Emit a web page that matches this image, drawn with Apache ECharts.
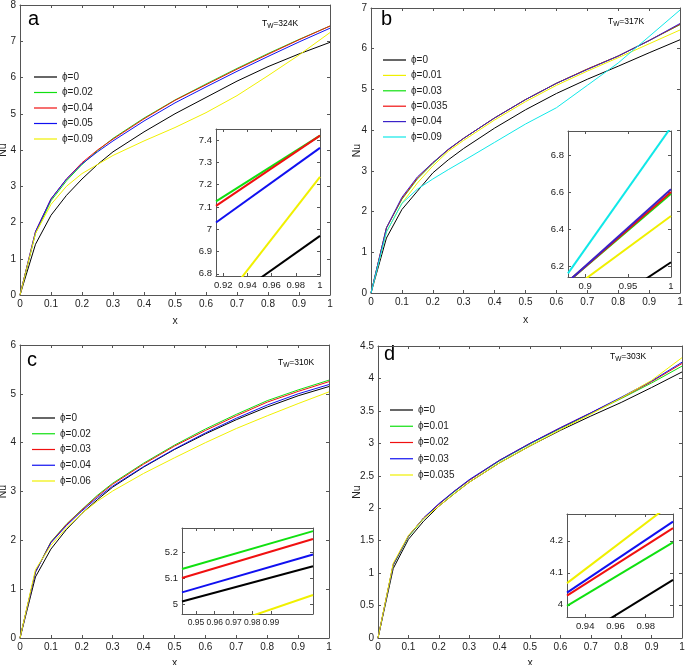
<!DOCTYPE html>
<html><head><meta charset="utf-8">
<script src="https://cdn.jsdelivr.net/npm/echarts@6/dist/echarts.min.js"></script>
<style>
html,body{margin:0;padding:0;background:#fff;width:685px;height:665px;overflow:hidden}
.p{position:absolute}
</style></head>
<body>
<div id="pa" class="p" style="left:0;top:0;width:342px;height:332px"></div>
<div id="pb" class="p" style="left:342px;top:0;width:343px;height:332px"></div>
<div id="pc" class="p" style="left:0;top:332px;width:342px;height:333px"></div>
<div id="pd" class="p" style="left:342px;top:332px;width:343px;height:333px"></div>
<script>
// ---------- shared ----------
const xs = [0, 0.05, 0.1, 0.15, 0.2, 0.25, 0.3, 0.4, 0.5, 0.6, 0.7, 0.8, 0.9, 1];
const xTicks = [0, 0.1, 0.2, 0.3, 0.4, 0.5, 0.6, 0.7, 0.8, 0.9, 1];

// ---------- panel a (Tw = 324K) ----------
const aNames = ['ϕ=0', 'ϕ=0.02', 'ϕ=0.04', 'ϕ=0.05', 'ϕ=0.09'];
const aBlack  = [0, 1.40, 2.20, 2.75, 3.20, 3.60, 3.95, 4.50, 5.00, 5.45, 5.90, 6.30, 6.65, 6.97];
const aGreen  = [0, 1.70, 2.60, 3.15, 3.60, 3.98, 4.32, 4.88, 5.38, 5.82, 6.25, 6.66, 7.05, 7.42];
const aRed    = [0, 1.75, 2.65, 3.20, 3.65, 4.00, 4.30, 4.86, 5.37, 5.80, 6.23, 6.64, 7.04, 7.42];
const aBlue   = [0, 1.75, 2.65, 3.20, 3.62, 3.95, 4.25, 4.80, 5.30, 5.74, 6.17, 6.58, 6.98, 7.36];
const aYellow = [0, 1.70, 2.50, 3.00, 3.35, 3.60, 3.85, 4.25, 4.62, 5.03, 5.50, 6.05, 6.62, 7.24];
const aYTicks = [0, 1, 2, 3, 4, 5, 6, 7, 8];
const aInsetX = [0.914, 1];
const aInsBlack  = [6.64, 6.97];
const aInsGreen  = [7.125, 7.42];
const aInsRed    = [7.105, 7.42];
const aInsBlue   = [7.03, 7.365];
const aInsYellow = [6.635, 7.235];
const aInsXTicks = [0.92, 0.94, 0.96, 0.98, 1];
const aInsYTicks = [6.8, 6.9, 7, 7.1, 7.2, 7.3, 7.4];

// ---------- panel b (Tw = 317K) ----------
const bNames = ['ϕ=0', 'ϕ=0.01', 'ϕ=0.03', 'ϕ=0.035', 'ϕ=0.04', 'ϕ=0.09'];
const bBlack  = [0, 1.35, 2.05, 2.50, 2.95, 3.27, 3.55, 4.05, 4.50, 4.90, 5.25, 5.57, 5.90, 6.22];
const bYellow = [0, 1.50, 2.20, 2.70, 3.12, 3.48, 3.75, 4.25, 4.70, 5.10, 5.45, 5.78, 6.12, 6.46];
const bGreen  = [0, 1.60, 2.30, 2.80, 3.18, 3.52, 3.80, 4.30, 4.75, 5.15, 5.50, 5.82, 6.20, 6.59];
const bRed    = [0, 1.60, 2.32, 2.82, 3.20, 3.52, 3.80, 4.30, 4.75, 5.15, 5.50, 5.82, 6.20, 6.60];
const bPurple = [0, 1.60, 2.35, 2.85, 3.20, 3.53, 3.80, 4.30, 4.75, 5.15, 5.49, 5.82, 6.20, 6.62];
const bCyan   = [0, 1.50, 2.20, 2.55, 2.80, 3.03, 3.25, 3.70, 4.15, 4.55, 5.10, 5.65, 6.30, 6.95];
const bYTicks = [0, 1, 2, 3, 4, 5, 6, 7];
const bInsetX = [0.88, 1];
const bInsBlack  = [5.85, 6.22];
const bInsYellow = [6.06, 6.47];
const bInsGreen  = [6.115, 6.59];
const bInsRed    = [6.115, 6.60];
const bInsPurple = [6.115, 6.615];
const bInsCyan   = [6.16, 6.95];
const bInsXTicks = [0.9, 0.95, 1];
const bInsYTicks = [6.2, 6.4, 6.6, 6.8];

// ---------- panel c (Tw = 310K) ----------
const cNames = ['ϕ=0', 'ϕ=0.02', 'ϕ=0.03', 'ϕ=0.04', 'ϕ=0.06'];
const cBlack  = [0, 1.25, 1.82, 2.22, 2.55, 2.83, 3.09, 3.50, 3.86, 4.18, 4.47, 4.73, 4.96, 5.15];
const cGreen  = [0, 1.35, 1.97, 2.33, 2.63, 2.92, 3.17, 3.58, 3.95, 4.28, 4.58, 4.86, 5.08, 5.28];
const cRed    = [0, 1.35, 1.96, 2.32, 2.62, 2.90, 3.15, 3.56, 3.93, 4.25, 4.55, 4.83, 5.05, 5.25];
const cBlue   = [0, 1.35, 1.95, 2.30, 2.60, 2.87, 3.11, 3.51, 3.87, 4.20, 4.50, 4.77, 5.00, 5.19];
const cYellow = [0, 1.40, 1.90, 2.25, 2.55, 2.80, 3.01, 3.37, 3.69, 4.00, 4.29, 4.55, 4.80, 5.04];
const cYTicks = [0, 1, 2, 3, 4, 5, 6];
const cInsetX = [0.9425, 1.0125];
const cInsBlack  = [5.01, 5.145];
const cInsGreen  = [5.135, 5.28];
const cInsRed    = [5.10, 5.25];
const cInsBlue   = [5.045, 5.19];
const cInsYellow = [4.863, 5.035];
const cInsXTicks = [0.95, 0.96, 0.97, 0.98, 0.99];
const cInsYTicks = [5, 5.1, 5.2];

// ---------- panel d (Tw = 303K) ----------
const dNames = ['ϕ=0', 'ϕ=0.01', 'ϕ=0.02', 'ϕ=0.03', 'ϕ=0.035'];
const dBlack  = [0, 1.07, 1.52, 1.80, 2.03, 2.22, 2.40, 2.70, 2.96, 3.20, 3.42, 3.63, 3.86, 4.10];
const dGreen  = [0, 1.12, 1.56, 1.84, 2.06, 2.25, 2.43, 2.73, 2.99, 3.23, 3.46, 3.69, 3.93, 4.19];
const dRed    = [0, 1.13, 1.57, 1.85, 2.06, 2.26, 2.43, 2.74, 3.00, 3.24, 3.47, 3.70, 3.95, 4.23];
const dBlue   = [0, 1.13, 1.57, 1.85, 2.07, 2.26, 2.44, 2.74, 3.00, 3.24, 3.47, 3.71, 3.96, 4.25];
const dYellow = [0, 1.15, 1.58, 1.84, 2.03, 2.22, 2.40, 2.70, 2.96, 3.21, 3.45, 3.70, 3.97, 4.32];
const dYTicks = [0, 0.5, 1, 1.5, 2, 2.5, 3, 3.5, 4, 4.5];
const dInsetX = [0.928, 0.998];
const dInsBlack  = [3.874, 4.078];
const dInsGreen  = [3.997, 4.195];
const dInsRed    = [4.029, 4.24];
const dInsBlue   = [4.038, 4.26];
const dInsYellow = [4.068, 4.32];
const dInsXTicks = [0.94, 0.96, 0.98];
const dInsYTicks = [4, 4.1, 4.2];

// ---------- rendering ----------
const FONT = '"Liberation Sans", Arial, sans-serif';
const C = {k:'#000000', g:'#10e010', r:'#f01010', b:'#1010f0', y:'#f0f000', c:'#10e8e8', p:'#3a22c8'};
const fmt = v => String(+(+v).toFixed(4));

function axis(pos, gi, min, max, ticks, showLabel, fs, extra) {
  return Object.assign({
    type: 'value', gridIndex: gi, position: pos, min: min, max: max,
    splitLine: {show: false},
    nameMoveOverlap: false,
    axisLine: {show: true, onZero: false, lineStyle: {color: '#555', width: 1}},
    axisTick: {show: true, inside: true, length: 3, customValues: ticks, lineStyle: {color: '#555'}},
    axisLabel: {show: showLabel, customValues: ticks, fontSize: fs, color: '#222', fontFamily: FONT, margin: 4, formatter: fmt, hideOverlap: false}
  }, extra || {});
}

function build(P) {
  const series = [];
  P.lines.forEach((L, i) => {
    series.push({type: 'line', name: P.names[i], xAxisIndex: 0, yAxisIndex: 0,
      data: xs.map((x, j) => [x, L.ys[j]]), symbol: 'none', silent: true,
      lineStyle: {width: 1, color: L.c}, itemStyle: {color: L.c}});
  });
  P.ins.forEach((L, i) => {
    series.push({type: 'line', name: 'inset ' + i, xAxisIndex: 2, yAxisIndex: 2,
      data: P.insX.map((x, j) => [x, L.ys[j]]), symbol: 'none', silent: true, clip: true,
      lineStyle: {width: 2, color: L.c}, itemStyle: {color: L.c}});
  });
  const nameStyle = {fontSize: 10.5, color: '#222', fontFamily: FONT};
  return {
    animation: false,
    grid: [
      {left: P.main[0], top: P.main[1], width: P.main[2], height: P.main[3], outerBoundsMode: 'none', containLabel: false},
      {left: P.box[0], top: P.box[1], width: P.box[2], height: P.box[3], show: true, backgroundColor: '#fff', borderWidth: 0, outerBoundsMode: 'none', containLabel: false}
    ],
    xAxis: [
      axis('bottom', 0, 0, 1, xTicks, true, 10, {name: 'x', nameLocation: 'middle', nameGap: P.xGap, nameTextStyle: nameStyle}),
      axis('top', 0, 0, 1, xTicks, false, 10),
      axis('bottom', 1, P.insX[0], P.insX[1], P.insXTicks, true, P.insFs),
      axis('top', 1, P.insX[0], P.insX[1], P.insXTicks, false, P.insFs)
    ],
    yAxis: [
      axis('left', 0, P.yRange[0], P.yRange[1], P.yTicks, true, 10, {name: 'Nu', nameLocation: 'middle', nameGap: P.yGap, nameTextStyle: nameStyle}),
      axis('right', 0, P.yRange[0], P.yRange[1], P.yTicks, false, 10),
      axis('left', 1, P.insY[0], P.insY[1], P.insYTicks, true, 9.5),
      axis('right', 1, P.insY[0], P.insY[1], P.insYTicks, false, 9.5)
    ],
    legend: {
      orient: 'vertical', left: P.leg[0], top: P.leg[1], data: P.names, padding: 0,
      icon: 'rect', itemWidth: 23, itemHeight: 1.2, itemGap: P.leg[2], selectedMode: false,
      textStyle: {fontSize: 10, color: '#222', fontFamily: FONT, lineHeight: 12}
    },
    graphic: [
      {type: 'text', left: P.letter[0], top: P.letter[1], style: {text: P.letterText, fontSize: 20, fontFamily: FONT, fill: '#000'}},
      {type: 'text', left: P.tw[0], top: P.tw[1], style: {
        text: '{t|T}{s|W}{t|' + P.twText + '}',
        rich: {t: {fontSize: 8.5, fontFamily: FONT, fill: '#000', lineHeight: 14},
               s: {fontSize: 6.5, fontFamily: FONT, fill: '#000', lineHeight: 14, padding: [5, 0, 0, 0]}}
      }}
    ],
    series: series
  };
}

const panels = [
  {el: 'pa', names: aNames, letterText: 'a', twText: '=324K',
   lines: [{c: C.k, ys: aBlack}, {c: C.g, ys: aGreen}, {c: C.r, ys: aRed}, {c: C.b, ys: aBlue}, {c: C.y, ys: aYellow}],
   ins: [{c: C.k, ys: aInsBlack}, {c: C.y, ys: aInsYellow}, {c: C.b, ys: aInsBlue}, {c: C.g, ys: aInsGreen}, {c: C.r, ys: aInsRed}],
   insX: aInsetX, insY: [6.79, 7.45], insXTicks: aInsXTicks, insYTicks: aInsYTicks, insFs: 9.5,
   yRange: [0, 8], yTicks: aYTicks,
   main: [20, 5, 310, 290], box: [216, 129, 104, 147], xGap: 21, yGap: 11,
   leg: [34, 71, 3.5], letter: [28, 9], tw: [262, 18]},
  {el: 'pb', names: bNames, letterText: 'b', twText: '=317K',
   lines: [{c: C.k, ys: bBlack}, {c: C.y, ys: bYellow}, {c: C.g, ys: bGreen}, {c: C.r, ys: bRed}, {c: C.p, ys: bPurple}, {c: C.c, ys: bCyan}],
   ins: [{c: C.k, ys: bInsBlack}, {c: C.y, ys: bInsYellow}, {c: C.g, ys: bInsGreen}, {c: C.r, ys: bInsRed}, {c: C.p, ys: bInsPurple}, {c: C.c, ys: bInsCyan}],
   insX: bInsetX, insY: [6.14, 6.93], insXTicks: bInsXTicks, insYTicks: bInsYTicks, insFs: 9.5,
   yRange: [0, 7], yTicks: bYTicks,
   main: [29, 8, 309, 285], box: [226, 131, 103, 146], xGap: 22, yGap: 8.5,
   leg: [41, 54, 3.4], letter: [39, 9], tw: [266, 16]},
  {el: 'pc', names: cNames, letterText: 'c', twText: '=310K',
   lines: [{c: C.k, ys: cBlack}, {c: C.g, ys: cGreen}, {c: C.r, ys: cRed}, {c: C.b, ys: cBlue}, {c: C.y, ys: cYellow}],
   ins: [{c: C.k, ys: cInsBlack}, {c: C.y, ys: cInsYellow}, {c: C.b, ys: cInsBlue}, {c: C.r, ys: cInsRed}, {c: C.g, ys: cInsGreen}],
   insX: cInsetX, insY: [4.962, 5.292], insXTicks: cInsXTicks, insYTicks: cInsYTicks, insFs: 8.5,
   yRange: [0, 6], yTicks: cYTicks,
   main: [20, 13, 309, 293], box: [182, 196, 131, 86], xGap: 20, yGap: 11,
   leg: [32, 80, 3.75], letter: [27, 18], tw: [278, 25]},
  {el: 'pd', names: dNames, letterText: 'd', twText: '=303K',
   lines: [{c: C.k, ys: dBlack}, {c: C.g, ys: dGreen}, {c: C.r, ys: dRed}, {c: C.b, ys: dBlue}, {c: C.y, ys: dYellow}],
   ins: [{c: C.k, ys: dInsBlack}, {c: C.g, ys: dInsGreen}, {c: C.r, ys: dInsRed}, {c: C.b, ys: dInsBlue}, {c: C.y, ys: dInsYellow}],
   insX: dInsetX, insY: [3.962, 4.284], insXTicks: dInsXTicks, insYTicks: dInsYTicks, insFs: 9.5,
   yRange: [0, 4.5], yTicks: dYTicks,
   main: [36, 14, 304, 292], box: [225, 182, 106, 103], xGap: 20, yGap: 15.5,
   leg: [48, 72, 4.25], letter: [42, 12], tw: [268, 19]}
];

panels.forEach(P => {
  const chart = echarts.init(document.getElementById(P.el), null, {renderer: 'canvas'});
  chart.setOption(build(P));
});
</script>
</body></html>
